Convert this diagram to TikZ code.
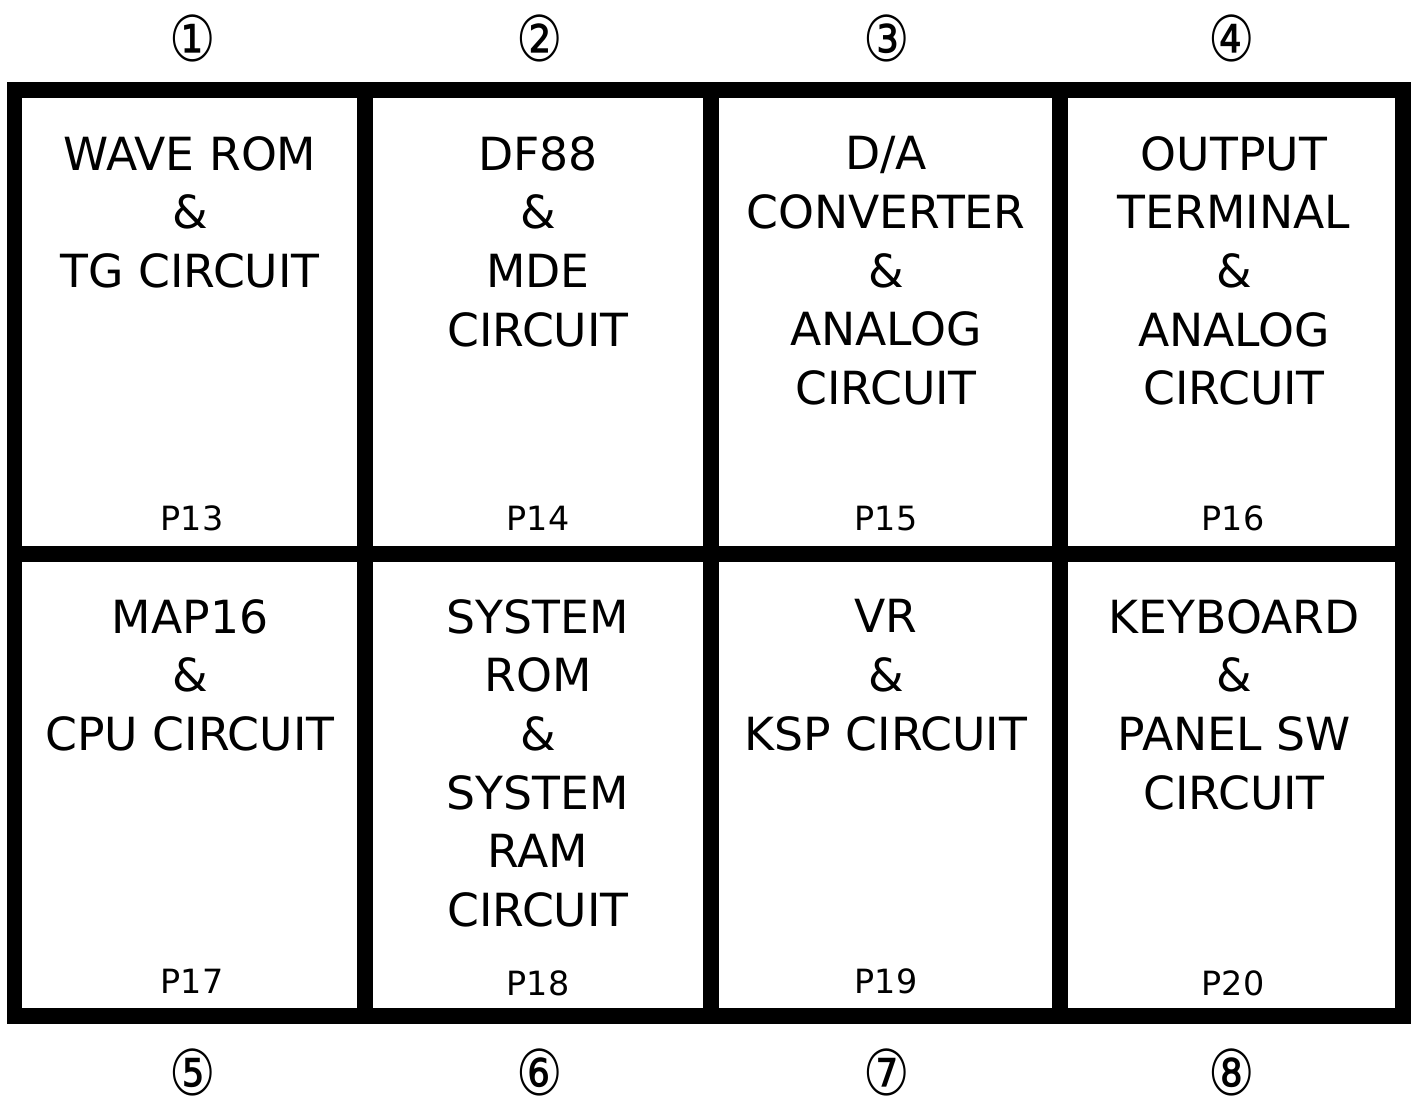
\documentclass[tikz,border=0pt]{standalone}
\usepackage{fontspec}
\usepackage{graphicx}
\setmainfont{DejaVu Sans}
\newfontfamily\circfont{DejaVu Sans}
\newcommand{\circnum}[1]{\scalebox{0.82}[1]{#1}}
\usepackage{tikz}
\usetikzlibrary{
  positioning,
  calc
}
\tikzset{
  frameline/.style={draw=black,line width=0.32cm},
  blocktext/.style={anchor=north,align=center,inner sep=0pt,yshift=20.5pt,execute at begin node=\strut,font=\fontsize{26pt}{33.4pt}\selectfont},
  pagetext/.style={anchor=base,inner sep=0pt,font=\fontsize{19pt}{22pt}\selectfont},
  marknum/.style={inner sep=0pt,font=\circfont\fontsize{36pt}{38pt}\selectfont}
}

\begin{document}
\begin{tikzpicture}[x=0.02cm,y=-0.02cm]
\useasboundingbox (0,0) rectangle (1415,1102);

% Outer frame and dividers.
\draw[frameline] (14.5,90) rectangle (1403,1016);
\draw[frameline] (14.5,554) -- (1403,554);
\draw[frameline] (365,90) -- (365,1016);
\draw[frameline] (711,90) -- (711,1016);
\draw[frameline] (1060,90) -- (1060,1016);

% Upper row.
\node[blocktext] (wave) at (190,172) {WAVE ROM\\\&\\TG CIRCUIT};
\node[blocktext] (df) at (538,172) {DF88\\\&\\MDE\\CIRCUIT};
\node[blocktext] (da) at (886,172) {D/A\\CONVERTER\\\&\\ANALOG\\CIRCUIT};
\node[blocktext] (out) at (1234,172) {OUTPUT\\TERMINAL\\\&\\ANALOG\\CIRCUIT};
\node[pagetext] (p13) at (192,530) {P13};
\node[pagetext] (p14) at (538,530) {P14};
\node[pagetext] (p15) at (886,530) {P15};
\node[pagetext] (p16) at (1233,530) {P16};

% Lower row.
\node[blocktext] (map) at (190,635) {MAP16\\\&\\CPU CIRCUIT};
\node[blocktext] (sys) at (538,635) {SYSTEM\\ROM\\\&\\SYSTEM\\RAM\\CIRCUIT};
\node[blocktext] (vr) at (886,635) {VR\\\&\\KSP CIRCUIT};
\node[blocktext] (key) at (1234,635) {KEYBOARD\\\&\\PANEL SW\\CIRCUIT};
\node[pagetext] (p17) at (192,993) {P17};
\node[pagetext] (p18) at (538,995) {P18};
\node[pagetext] (p19) at (886,993) {P19};
\node[pagetext] (p20) at (1233,995) {P20};

% Circled block numbers.
\node[marknum] (m1) at (193,38) {\circnum{①}};
\node[marknum] (m2) at (540,38) {\circnum{②}};
\node[marknum] (m3) at (887,38) {\circnum{③}};
\node[marknum] (m4) at (1232,38) {\circnum{④}};
\node[marknum] (m5) at (193,1072) {\circnum{⑤}};
\node[marknum] (m6) at (540,1072) {\circnum{⑥}};
\node[marknum] (m7) at (887,1072) {\circnum{⑦}};
\node[marknum] (m8) at (1232,1072) {\circnum{⑧}};
\end{tikzpicture}
\end{document}
